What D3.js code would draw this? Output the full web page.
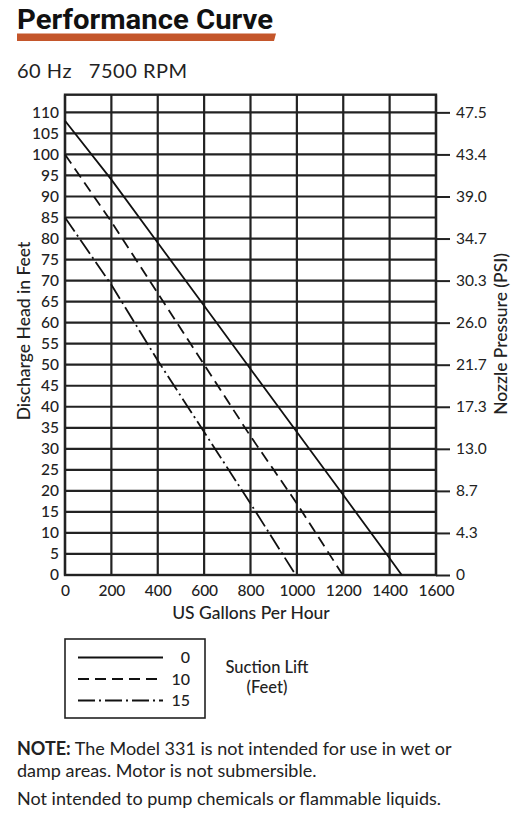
<!DOCTYPE html>
<html><head><meta charset="utf-8">
<script src="https://cdn.jsdelivr.net/npm/d3@7"></script>
<style>body{margin:0;background:#fff}svg{display:block}</style>
</head><body>
<svg id="c" width="526" height="822"></svg>
<script>
const xTicks = [0,200,400,600,800,1000,1200,1400,1600];
const yTicks = [0,5,10,15,20,25,30,35,40,45,50,55,60,65,70,75,80,85,90,95,100,105,110];
const psiFeet = [0,10,20,30,40,50,60,70,80,90,100,110];
const psiLabels = ["0","4.3","8.7","13.0","17.3","21.7","26.0","30.3","34.7","39.0","43.4","47.5"];
const seriesNames = ["0","10","15"];
const lift0 = [[0,108],[200,94],[400,79],[600,64],[800,49],[1000,34],[1200,19],[1400,4],[1452,0]];
const lift10 = [[0,100],[200,84],[400,67],[600,50],[800,33],[1000,17],[1198,0]];
const lift15 = [[0,85],[200,69],[400,51],[600,34],[800,17],[995,0]];
const series = [lift0, lift10, lift15];
const dashes = [null, "11,6", "17,4,2,4"];

const svg = d3.select("#c");
const F = "Lato, 'Open Sans', sans-serif";
const ink = "#222";
const x = d3.scaleLinear().domain([0,1600]).range([65,436]);
const y = d3.scaleLinear().domain([0,114.2]).range([575,94.7]);

// Title
svg.append("text").attr("x",17).attr("y",29).attr("font-family","Roboto, sans-serif")
  .attr("font-weight",700).attr("font-size",27).attr("fill","#111")
  .attr("textLength",256).attr("lengthAdjust","spacingAndGlyphs").text("Performance Curve");
svg.append("path").attr("d","M17,33.5 L276,33.5 L274,41 L17,41 Z").attr("fill","#c4562b");
svg.append("text").attr("x",17).attr("y",78).attr("font-family",F).attr("font-weight",400)
  .attr("font-size",20).attr("fill",ink).attr("xml:space","preserve")
  .attr("textLength",170).attr("lengthAdjust","spacing").text("60 Hz   7500 RPM");

// grid
const g = svg.append("g");
g.selectAll("line.h").data(yTicks).join("line")
  .attr("x1",x(0)).attr("x2",x(1600)).attr("y1",d=>y(d)).attr("y2",d=>y(d))
  .attr("stroke",ink).attr("stroke-width",2.2);
g.selectAll("line.v").data(xTicks).join("line")
  .attr("y1",y(0)).attr("y2",y(114.2)).attr("x1",d=>x(d)).attr("x2",d=>x(d))
  .attr("stroke",ink).attr("stroke-width",2.2);
g.append("rect").attr("x",x(0)).attr("y",y(114.2)).attr("width",x(1600)-x(0)).attr("height",y(0)-y(114.2))
  .attr("fill","none").attr("stroke",ink).attr("stroke-width",2.4);

// left axis labels
const yAx = d3.axisLeft(y).tickValues(yTicks).tickSize(0).tickPadding(6);
const ga = svg.append("g").attr("transform",`translate(${x(0)},0)`).call(yAx);
ga.select(".domain").remove();
ga.selectAll("text").attr("font-family",F).attr("font-size",15.5).attr("font-weight",500).attr("fill",ink);

// bottom axis labels
const xAx = d3.axisBottom(x).tickValues(xTicks).tickSize(0).tickPadding(10).tickFormat(d3.format("d"));
const gb = svg.append("g").attr("transform",`translate(0,${y(0)})`).call(xAx);
gb.select(".domain").remove();
gb.selectAll("text").attr("font-family",F).attr("font-size",15.5).attr("font-weight",500).attr("fill",ink);

// right PSI axis
const rAx = d3.axisRight(y).tickValues(psiFeet).tickSize(14).tickPadding(6).tickFormat((d,i)=>psiLabels[i]);
const gr = svg.append("g").attr("transform",`translate(${x(1600)},0)`).call(rAx);
gr.select(".domain").remove();
gr.selectAll("line").attr("stroke",ink).attr("stroke-width",2);
gr.selectAll("text").attr("font-family",F).attr("font-size",15.5).attr("font-weight",400).attr("fill",ink);

// axis titles
svg.append("text").attr("transform","translate(30,331) rotate(-90)").attr("text-anchor","middle")
  .attr("font-family",F).attr("font-size",17.5).attr("font-weight",500).attr("fill",ink).text("Discharge Head in Feet");
svg.append("text").attr("transform","translate(507,334) rotate(-90)").attr("text-anchor","middle")
  .attr("font-family",F).attr("font-size",17.5).attr("font-weight",500).attr("fill",ink).text("Nozzle Pressure (PSI)");
svg.append("text").attr("x",251).attr("y",619).attr("text-anchor","middle")
  .attr("font-family",F).attr("font-size",17.5).attr("font-weight",500).attr("fill",ink).text("US Gallons Per Hour");

// curves
const line = d3.line().x(d=>x(d[0])).y(d=>y(d[1]));
svg.selectAll("path.curve").data(series).join("path").attr("class","curve")
  .attr("d",line).attr("fill","none").attr("stroke","#111").attr("stroke-width",1.8)
  .attr("stroke-dasharray",(d,i)=>dashes[i]);

// legend
const lg = svg.append("g");
lg.append("rect").attr("x",65).attr("y",639).attr("width",140).attr("height",79)
  .attr("fill","none").attr("stroke",ink).attr("stroke-width",1.6);
const ly = [657.5,679,700.5];
seriesNames.forEach((n,i)=>{
  lg.append("line").attr("x1",78).attr("x2",163).attr("y1",ly[i]).attr("y2",ly[i])
    .attr("stroke","#111").attr("stroke-width",1.8).attr("stroke-dasharray",dashes[i]);
  lg.append("text").attr("x",190).attr("y",ly[i]+5.5).attr("text-anchor","end")
    .attr("font-family",F).attr("font-size",16).attr("font-weight",500).attr("fill",ink).text(n);
});
lg.append("text").attr("x",267).attr("y",673).attr("text-anchor","middle")
  .attr("font-family",F).attr("font-size",16.5).attr("font-weight",500).attr("fill",ink).text("Suction Lift");
lg.append("text").attr("x",267).attr("y",693).attr("text-anchor","middle")
  .attr("font-family",F).attr("font-size",16.5).attr("font-weight",500).attr("fill",ink).text("(Feet)");

// notes
const NF = 18;
const n1 = svg.append("text").attr("x",17).attr("y",755).attr("font-family",F).attr("font-size",NF).attr("fill",ink);
n1.append("tspan").attr("font-weight",700).text("NOTE:");
n1.append("tspan").attr("font-weight",400).text(" The Model 331 is not intended for use in wet or");
svg.append("text").attr("x",17).attr("y",777).attr("font-family",F).attr("font-size",NF).attr("fill",ink).text("damp areas. Motor is not submersible.");
svg.append("text").attr("x",17).attr("y",805).attr("font-family",F).attr("font-size",NF).attr("fill",ink).text("Not intended to pump chemicals or flammable liquids.");
</script>
</body></html>
